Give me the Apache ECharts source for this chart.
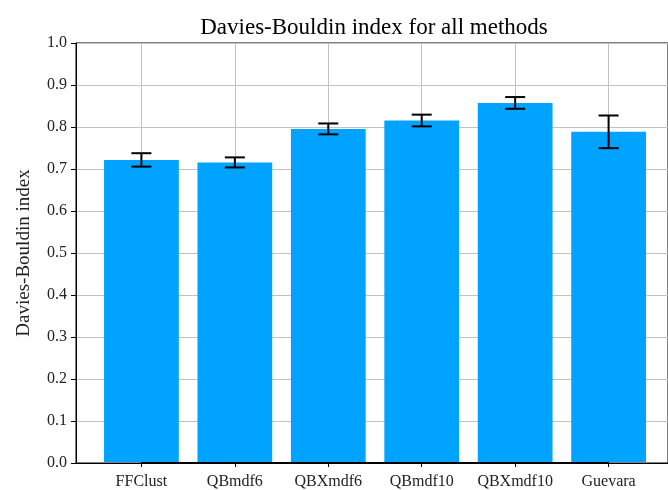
<!DOCTYPE html>
<html>
<head>
<meta charset="utf-8">
<script src="https://cdn.jsdelivr.net/npm/echarts@6/dist/echarts.min.js"></script>
<style>
html, body { margin: 0; padding: 0; background: #fff; }
#chart { width: 668px; height: 490px; }
</style>
</head>
<body>
<div id="chart"></div>
<script>
const methods = ['FFClust', 'QBmdf6', 'QBXmdf6', 'QBmdf10', 'QBXmdf10', 'Guevara']
const dbMean = [0.721, 0.715, 0.795, 0.815, 0.857, 0.788]
const dbErr = [0.016, 0.012, 0.013, 0.014, 0.014, 0.039]

const font = 'Liberation Serif'
const barData = dbMean.map((v, i) => [i, v])
const errData = dbMean.map((v, i) => [i, v - dbErr[i], v + dbErr[i]])

// frame grid spans -0.7 .. 5.7 (right side runs off the canvas like the original)
const step = (668 + 6 - 76) / 6.4
const gridTop = 43, gridBottom = 27

var myChart = echarts.init(document.getElementById('chart'))
var option = {
    animation: false,
    title: {
        text: 'Davies-Bouldin index for all methods',
        left: 369,
        top: 11,
        textAlign: 'center',
        textStyle: { fontFamily: font, fontSize: 23, fontWeight: 'normal', color: '#000' }
    },
    grid: [
        {
            left: 76, top: gridTop, bottom: gridBottom, right: -6,
            show: true, borderColor: '#000', borderWidth: 1
        },
        {
            left: 76 + 0.7 * step, top: gridTop, bottom: gridBottom,
            width: 5 * step
        }
    ],
    xAxis: [
        {
            gridIndex: 0,
            type: 'value',
            min: -0.7,
            max: 5.7,
            axisLine: { show: true, onZero: false, lineStyle: { color: '#000' } },
            axisTick: { show: false },
            axisLabel: { show: false },
            splitLine: { show: false }
        },
        {
            gridIndex: 1,
            type: 'value',
            min: 0,
            max: 5,
            interval: 1,
            axisLine: { show: true, onZero: false, lineStyle: { color: '#000' } },
            axisTick: { show: true, inside: false, length: 5, lineStyle: { color: '#000', width: 1 } },
            axisLabel: {
                formatter: v => methods[Math.round(v)],
                fontFamily: font, fontSize: 16, color: '#222', margin: 12
            },
            splitLine: { show: true, lineStyle: { color: '#c2c2c2', width: 1 } }
        }
    ],
    yAxis: [
        {
            gridIndex: 0,
            type: 'value',
            min: 0,
            max: 1,
            interval: 0.1,
            name: 'Davies-Bouldin index',
            nameLocation: 'middle',
            nameGap: 42,
            nameTextStyle: { fontFamily: font, fontSize: 19, color: '#222' },
            axisLine: { show: true, onZero: false, lineStyle: { color: '#000' } },
            axisTick: { show: true, length: 5, lineStyle: { color: '#000' } },
            axisLabel: {
                formatter: v => v.toFixed(1),
                fontFamily: font, fontSize: 16, color: '#222', margin: 9
            },
            splitLine: { show: true, lineStyle: { color: '#c2c2c2', width: 1 } }
        },
        {
            gridIndex: 1,
            type: 'value',
            min: 0,
            max: 1,
            show: false
        }
    ],
    series: [
        {
            type: 'bar',
            xAxisIndex: 1,
            yAxisIndex: 1,
            data: barData,
            barWidth: 0.8 * step,
            clip: false,
            itemStyle: { color: '#00a3ff' }
        },
        {
            type: 'custom',
            xAxisIndex: 1,
            yAxisIndex: 1,
            data: errData,
            encode: { x: 0, y: [1, 2] },
            z: 5,
            clip: false,
            renderItem: function (params, api) {
                const x = api.value(0)
                const lo = api.coord([x, api.value(1)])
                const hi = api.coord([x, api.value(2)])
                const hw = 10
                const style = { stroke: '#000', lineWidth: 2 }
                return {
                    type: 'group',
                    children: [
                        { type: 'line', shape: { x1: lo[0], y1: lo[1], x2: hi[0], y2: hi[1] }, style },
                        { type: 'line', shape: { x1: lo[0] - hw, y1: lo[1], x2: lo[0] + hw, y2: lo[1] }, style },
                        { type: 'line', shape: { x1: hi[0] - hw, y1: hi[1], x2: hi[0] + hw, y2: hi[1] }, style }
                    ]
                }
            }
        }
    ]
}
myChart.setOption(option)
</script>
</body>
</html>
